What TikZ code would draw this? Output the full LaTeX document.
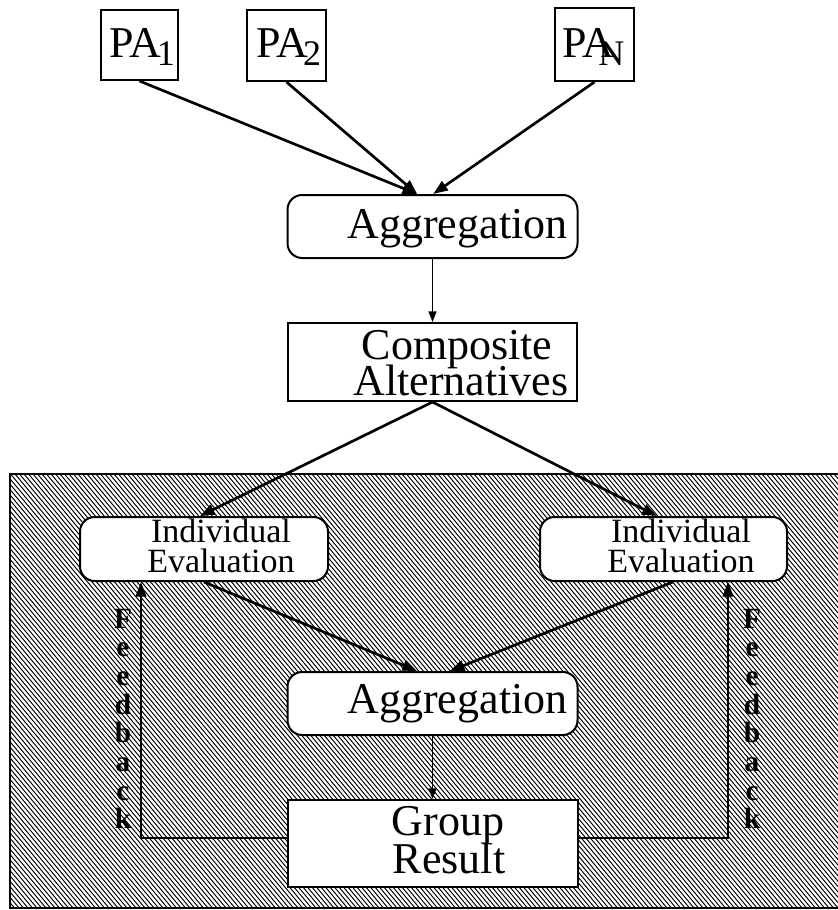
\documentclass[tikz,border=0pt]{standalone}
\usepackage{fontspec}
\setmainfont{Liberation Serif}
\usetikzlibrary{arrows.meta}
\begin{document}
\begin{tikzpicture}[x=0.75pt,y=-0.75pt,
  box/.style={draw,line width=1.5pt,fill=white,inner sep=0pt},
  rbox/.style={box,rounded corners=11pt},
  big/.style={font=\fontsize{33}{33}\selectfont,inner sep=0pt,anchor=base},
  mid/.style={font=\fontsize{25.5}{25.5}\selectfont,inner sep=0pt,anchor=base},
  fbl/.style={font=\bfseries\fontsize{22}{22}\selectfont,inner sep=0pt,anchor=base},
  thickarrow/.style={line width=2pt,-{Triangle[length=11pt,width=8pt]}},
  thinarrow/.style={line width=1.1pt,-{Triangle[length=8pt,width=6pt]}},
  fbarrow/.style={line width=1.5pt,-{Triangle[length=11pt,width=8pt]}},
  hatchline/.style={line width=0.72pt}
]
\useasboundingbox (0,0) rectangle (838,910);

% shaded (hatched) region
\begin{scope}
  \clip (10,474) rectangle (838,908);
  \foreach \i in {0,...,275} \draw[hatchline] (-354+4.5*\i,474) -- ++(364,434);
\end{scope}
\draw[line width=1.5pt] (838,474) -- (10,474) -- (10,908) -- (838,908);

% PA boxes
\node[box,minimum width=77*0.75pt,minimum height=70*0.75pt] (pa1) at (139.5,45) {};
\node[big,anchor=base west] (pa1t) at (109,57) {PA\kern-3.5pt\raisebox{-6pt}{\fontsize{27}{27}\selectfont 1}};
\node[box,minimum width=79*0.75pt,minimum height=71*0.75pt] (pa2) at (286.5,45.5) {};
\node[big,anchor=base west] (pa2t) at (256,57) {PA\kern-4pt\raisebox{-6pt}{\fontsize{27}{27}\selectfont 2}};
\node[box,minimum width=79*0.75pt,minimum height=73*0.75pt] (pan) at (594.5,44.5) {};
\node[big,anchor=base west] (pant) at (562,57) {PA\kern-12pt\raisebox{-6pt}{\fontsize{27}{27}\selectfont N}};

% top aggregation
\node[rbox,minimum width=290*0.75pt,minimum height=63*0.75pt] (agg1) at (432.5,226.5) {};
\node[big] (agg1t) at (457.5,238) {Aggregation};

% composite alternatives
\node[box,minimum width=289*0.75pt,minimum height=78*0.75pt] (comp) at (432.5,362) {};
\node[big] (comp1) at (457,359) {Composite};
\node[big] (comp2) at (461,395) {Alternatives};

% individual evaluations
\node[rbox,minimum width=248*0.75pt,minimum height=64*0.75pt] (ie1) at (204,549) {};
\node[mid] (ie1a) at (221,542) {Individual};
\node[mid] (ie1b) at (221,572) {Evaluation};
\node[rbox,minimum width=247*0.75pt,minimum height=64*0.75pt] (ie2) at (663.5,549) {};
\node[mid] (ie2a) at (681,542) {Individual};
\node[mid] (ie2b) at (681,572) {Evaluation};

% bottom aggregation
\node[rbox,minimum width=290*0.75pt,minimum height=63*0.75pt] (agg2) at (432.5,703.5) {};
\node[big] (agg2t) at (457.5,713) {Aggregation};

% group result
\node[box,minimum width=290*0.75pt,minimum height=87*0.75pt] (grp) at (432.5,843.5) {};
\node[big] (grp1) at (448,835) {Group};
\node[big] (grp2) at (449,873) {Result};

% feedback labels
\foreach \c [count=\k from 0] in {F,e,e,d,b,a,c,k} {
  \node[fbl] (fbl\k) at (123,628+28.7*\k) {\c};
  \node[fbl] (fbr\k) at (752,628+28.7*\k) {\c};
}

% connectors
\draw[thickarrow] (pa1.south) -- ([xshift=-11.5pt]agg1.north);
\draw[thickarrow] (pa2.south) -- ([xshift=-11.5pt]agg1.north);
\draw[thickarrow] (pan.south) -- ([xshift=0.5pt]agg1.north);
\draw[thinarrow] (agg1.south) -- (comp.north);
\draw[thickarrow] (comp.south) -- ([xshift=-3pt]ie1.north);
\draw[thickarrow] (comp.south) -- ([xshift=-5pt]ie2.north);
\draw[thickarrow] (ie1.south) -- ([xshift=-11.5pt]agg2.north);
\draw[thickarrow] ([xshift=7pt]ie2.south) -- ([xshift=13pt]agg2.north);
\draw[thinarrow] (agg2.south) -- (grp.north);
\draw[fbarrow] ([yshift=4pt]grp.west) -| ([xshift=46.5pt]ie1.south west);
\draw[fbarrow] ([yshift=4pt]grp.east) -| ([xshift=-45pt]ie2.south east);
\end{tikzpicture}
\end{document}
